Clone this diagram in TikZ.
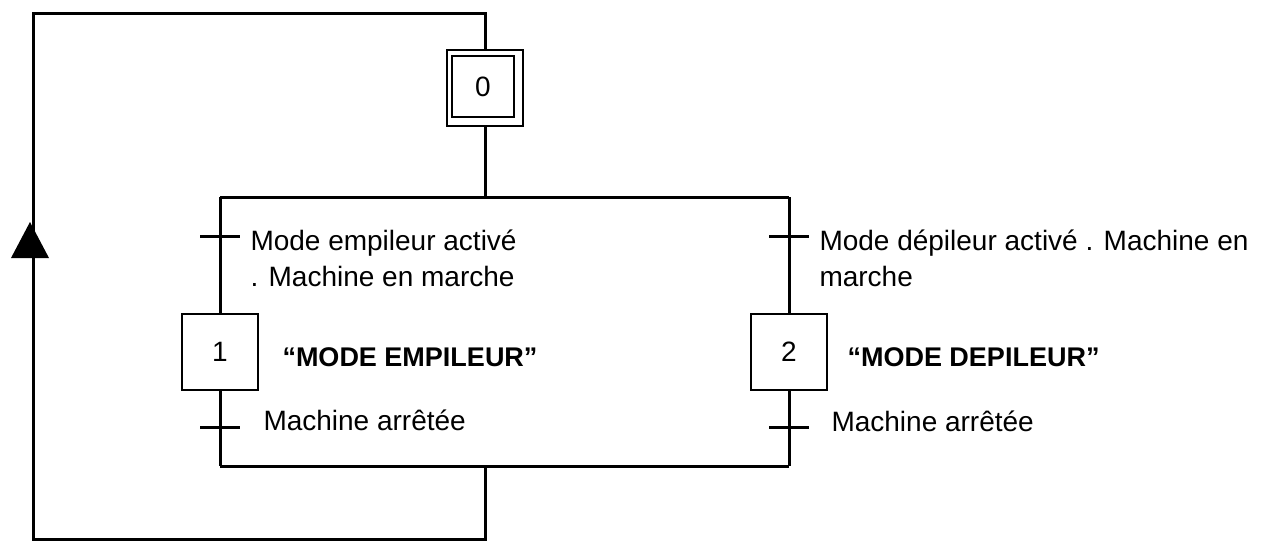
\documentclass[tikz,border=0pt]{standalone}
\usepackage{fontspec}
\setmainfont{Liberation Sans}
\begin{document}
\begin{tikzpicture}[x=1pt,y=-1pt,line width=3pt,
  stepbox/.style={draw,line width=2pt,minimum width=76pt,minimum height=76pt,inner sep=0pt,font=\fontsize{28}{34}\selectfont},
  innerbox/.style={draw,line width=2pt,minimum width=62pt,minimum height=61pt,inner sep=0pt,font=\fontsize{28}{34}\selectfont},
  lbl/.style={anchor=base west,inner sep=0pt,font=\fontsize{28}{36}\selectfont},
  act/.style={anchor=base west,inner sep=0pt,font=\fontsize{27}{34}\selectfont\bfseries},
  trans/.style={line width=3pt}]
\useasboundingbox (0,0) rectangle (1261,541);
% steps
\node[stepbox] (s0) at (485,88) {};
\node[innerbox] (s0i) at (483,86.5) {0};
\node[stepbox] (s1) at (220,352) {1};
\node[stepbox] (s2) at (789,352) {2};
% helper coordinates
\coordinate (tl) at (33,13);
\coordinate (tr) at (485,13);
\coordinate (bl) at (33,539);
\coordinate (br) at (485,539);
\coordinate (divm) at (485,197);
\coordinate (divl) at (220,197);
\coordinate (divr) at (789,197);
\coordinate (conl) at (220,466);
\coordinate (conr) at (789,466);
\coordinate (conm) at (485,466);
\coordinate (t1) at (220,236);
\coordinate (t2) at (789,236);
\coordinate (t3) at (220,427);
\coordinate (t4) at (789,427);
% links
\draw (s0.south) -- (divm);
\draw (divl) -- (divr);
\draw (divl) -- (s1.north);
\draw (divr) -- (s2.north);
\draw (s1.south) -- (conl);
\draw (s2.south) -- (conr);
\draw (conl) -- (conr);
\draw (conm) -- (br) -- (bl) -- (tl) -- (tr) -- (s0.north);
% transitions
\draw[trans] ([xshift=-20pt]t1) -- ([xshift=20pt]t1);
\draw[trans] ([xshift=-20pt]t2) -- ([xshift=20pt]t2);
\draw[trans] ([xshift=-20pt]t3) -- ([xshift=20pt]t3);
\draw[trans] ([xshift=-20pt]t4) -- ([xshift=20pt]t4);
% arrow on loop
\fill (30,222) -- (11,258) -- (49,258) -- cycle;
% receptivities
\node[lbl] (r1a) at (249,250) {Mode empileur activé};
\node[lbl] (r1b) at (249,286) {. Machine en marche};
\node[lbl] (r2a) at (818,250) {Mode dépileur activé . Machine en};
\node[lbl] (r2b) at (818,286) {marche};
\node[lbl] (r3) at (262,430) {Machine arrêtée};
\node[lbl] (r4) at (830,431) {Machine arrêtée};
% actions
\node[act] (a1) at (281,366) {“MODE EMPILEUR”};
\node[act] (a2) at (846,366) {“MODE DEPILEUR”};
\end{tikzpicture}
\end{document}
